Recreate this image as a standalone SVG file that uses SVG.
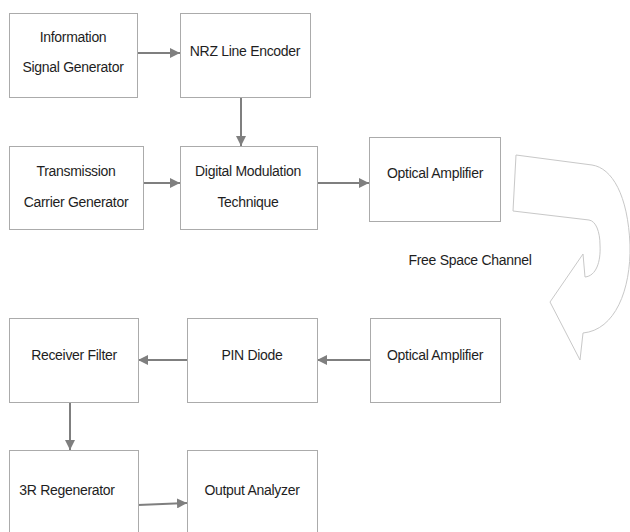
<svg xmlns="http://www.w3.org/2000/svg" width="630" height="532" viewBox="0 0 630 532">
<style>
.box{fill:#fff;stroke:#ababab;stroke-width:1}
.t{font-family:"Liberation Sans",Arial,sans-serif;font-size:14px;letter-spacing:-0.3px;fill:#1e1e1e;text-anchor:middle}
.c{stroke:#7f7f7f;stroke-width:2;fill:none}
</style>
<defs>
<marker id="ah" viewBox="0 0 10 10" refX="10" refY="5" markerWidth="5" markerHeight="5" orient="auto" markerUnits="strokeWidth">
<path d="M0,0 L10,5 L0,10 Z" fill="#7f7f7f"/>
</marker>
</defs>
<rect width="630" height="532" fill="#fff"/>
<g id="connectors">
<line class="c" x1="138" y1="53" x2="180" y2="53" marker-end="url(#ah)"/>
<line class="c" x1="241" y1="97" x2="241" y2="146" marker-end="url(#ah)"/>
<line class="c" x1="143" y1="183" x2="180" y2="183" marker-end="url(#ah)"/>
<line class="c" x1="317" y1="183" x2="369" y2="183" marker-end="url(#ah)"/>
<line class="c" x1="370" y1="360" x2="317" y2="360" marker-end="url(#ah)"/>
<line class="c" x1="187" y1="360" x2="138" y2="360" marker-end="url(#ah)"/>
<line class="c" x1="70" y1="402" x2="70" y2="450" marker-end="url(#ah)"/>
<line class="c" x1="138" y1="505" x2="187" y2="503" marker-end="url(#ah)"/>
</g>
<g id="freespace">
<path d="M516,155 L592,165 C612,168 628,195 630,245 C631,290 615,330 583,333 L580,360 L550,302 L583,254 L585,277 C596,276 601,262 600,245 C600,232 596,221 589,220 L513,211 Z" fill="#fff" stroke="#c8c8c8" stroke-width="1"/>
<text class="t" x="470" y="265">Free Space Channel</text>
</g>
<g id="info"><rect class="box" x="9.5" y="13.5" width="128" height="84"/><text class="t" x="73" y="42">Information</text><text class="t" x="73" y="72">Signal Generator</text></g>
<g id="nrz"><rect class="box" x="180.5" y="13.5" width="130" height="84"/><text class="t" x="245" y="56">NRZ Line Encoder</text></g>
<g id="carrier"><rect class="box" x="9.5" y="146.5" width="134" height="83"/><text class="t" x="76" y="176">Transmission</text><text class="t" x="76" y="207">Carrier Generator</text></g>
<g id="modulation"><rect class="box" x="180.5" y="146.5" width="137" height="83"/><text class="t" x="248" y="176">Digital Modulation</text><text class="t" x="248" y="207">Technique</text></g>
<g id="optamp1"><rect class="box" x="369.5" y="137.5" width="131" height="84"/><text class="t" x="435" y="178">Optical Amplifier</text></g>
<g id="optamp2"><rect class="box" x="370.5" y="318.5" width="130" height="84"/><text class="t" x="435" y="360">Optical Amplifier</text></g>
<g id="pin"><rect class="box" x="187.5" y="318.5" width="130" height="84"/><text class="t" x="252" y="360">PIN Diode</text></g>
<g id="filter"><rect class="box" x="9.5" y="318.5" width="129" height="84"/><text class="t" x="74" y="360">Receiver Filter</text></g>
<g id="regen"><rect class="box" x="9.5" y="450.5" width="129" height="90"/><text class="t" x="67" y="495">3R Regenerator</text></g>
<g id="analyzer"><rect class="box" x="187.5" y="450.5" width="130" height="90"/><text class="t" x="252" y="495">Output Analyzer</text></g>
</svg>
